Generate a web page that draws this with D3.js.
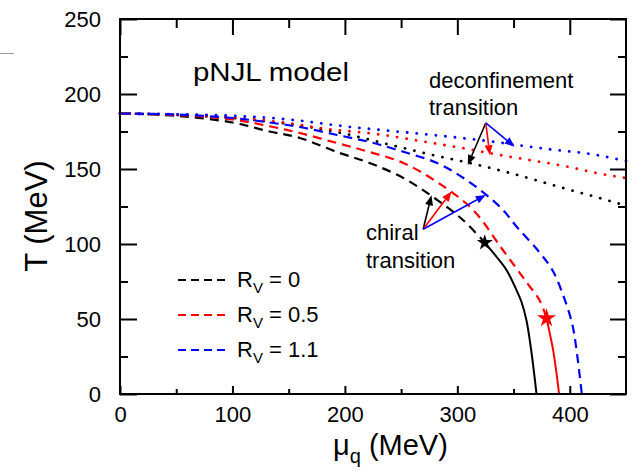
<!DOCTYPE html>
<html>
<head>
<meta charset="utf-8">
<script src="https://cdn.jsdelivr.net/npm/d3@7"></script>
<style>
  body { margin: 0; background: #fff; }
  svg text { font-family: "Liberation Sans", Arial, sans-serif; fill: #000; }
</style>
</head>
<body>
<svg id="chart" width="634" height="471"></svg>
<script>
// data: [mu_q (MeV), T (MeV)]
var muTicks = [0, 100, 200, 300, 400];
var muMinor = [50, 150, 250, 350];
var tTicks = [0, 50, 100, 150, 200, 250];
var tMinor = [25, 75, 125, 175, 225];

var chiralRv0 = [[0, 187], [50, 185.5], [100, 181], [133, 175], [160, 170.7], [193, 161.3], [222, 154], [252, 144], [280, 130.5], [305, 116], [324.4, 100.9]];
var chiralRv05 = [[0, 187], [50, 186], [100, 183], [133, 178.5], [160, 174], [193, 167.3], [222, 161.3], [252, 154], [282, 141.3], [314, 122.7], [340, 96.5], [362, 74], [373, 62.7], [379.3, 50.5]];
var chiralRv11 = [[0, 187], [50, 186.3], [100, 184], [133, 181], [160, 178], [193, 172.7], [222, 168], [252, 161.5], [282, 154], [308, 142.7], [338, 124.7], [353, 111.3], [373, 94.5], [385, 82], [394, 66], [402, 47.3], [406, 29.3], [410.7, 0]];

var firstOrderRv0 = [[324.4, 100.9], [334.8, 91.5], [343.7, 82.7], [352.6, 69.3], [357, 61.5], [361.5, 49], [365.9, 28], [370.4, 0]];
var firstOrderRv05 = [[379.3, 50.5], [382.2, 40.4], [385.2, 29.3], [388.2, 13.8], [390.5, 0]];

var deconfRv0 = [[0, 187], [50, 186], [100, 184], [150, 180], [200, 173.5], [234, 167.3], [277, 159.5], [311, 154], [347, 147.3], [391, 138], [442, 127.3], [450, 125.5]];
var deconfRv05 = [[0, 187], [50, 186.3], [100, 184.5], [150, 180.5], [178, 177.3], [231, 173], [278, 167.3], [302, 164.3], [338, 159.3], [364, 156], [400, 151.3], [424, 147.3], [450, 144]];
var deconfRv11 = [[0, 187], [50, 186.5], [100, 185.5], [150, 183], [200, 178.5], [260, 174], [278, 172.7], [320, 169.3], [373, 164], [424, 159.3], [450, 155.3]];

var critPoints = [[324.4, 100.9], [379.3, 50.5]];

var legendLabels = ["0", "0.5", "1.1"];
var colors = ["#000000", "#ff0000", "#0000ff"];

// annotation arrows: origin and tips
var chiralFrom = [269.6, 109.8];
var chiralTips = [[277, 132.5], [294.8, 135], [325.3, 132.7]];
var deconfFrom = [325.3, 180.7];
var deconfTips = [[309.3, 152.7], [328.9, 159.3], [351, 164.9]];

var svg = d3.select("#chart");

var x = d3.scaleLinear().domain([0, 450]).range([120, 626]);
var y = d3.scaleLinear().domain([0, 250]).range([394, 19]);

// stray grey mark at top left of the original
svg.append("line").attr("x1", 0).attr("x2", 14).attr("y1", 53.5).attr("y2", 53.5)
  .attr("stroke", "#999").attr("stroke-width", 1);

var line = d3.line().x(d => x(d[0])).y(d => y(d[1])).curve(d3.curveMonotoneX);
var lineY = d3.line().x(d => x(d[0])).y(d => y(d[1])).curve(d3.curveCatmullRom);

var plot = svg.append("g");

[deconfRv0, deconfRv05, deconfRv11].forEach(function (d, i) {
  plot.append("path").attr("d", line(d)).attr("fill", "none")
    .attr("stroke", colors[i]).attr("stroke-width", 2.8)
    .attr("stroke-linecap", "round")
    .attr("stroke-dasharray", "0.1,9.5");
});

[chiralRv0, chiralRv05, chiralRv11].forEach(function (d, i) {
  plot.append("path").attr("d", lineY(d)).attr("fill", "none")
    .attr("stroke", colors[i]).attr("stroke-width", 2.2)
    .attr("stroke-dasharray", "9,6");
});

[firstOrderRv0, firstOrderRv05].forEach(function (d, i) {
  plot.append("path").attr("d", lineY(d)).attr("fill", "none")
    .attr("stroke", colors[i]).attr("stroke-width", 2);
});

var star = d3.symbol().type(d3.symbolStar);
critPoints.forEach(function (p, i) {
  plot.append("path").attr("d", star.size(i == 0 ? 80 : 110)())
    .attr("transform", "translate(" + x(p[0]) + "," + y(p[1]) + ")")
    .attr("fill", colors[i]);
});

function arrow(from, to, color) {
  var x1 = x(from[0]), y1 = y(from[1]), x2 = x(to[0]), y2 = y(to[1]);
  var a = Math.atan2(y2 - y1, x2 - x1), L = 10, W = 4;
  var bx = x2 - L * Math.cos(a), by = y2 - L * Math.sin(a);
  plot.append("line").attr("x1", x1).attr("y1", y1).attr("x2", bx).attr("y2", by)
    .attr("stroke", color).attr("stroke-width", 1.6);
  plot.append("path")
    .attr("d", "M" + x2 + "," + y2 +
      "L" + (bx + W * Math.sin(a)) + "," + (by - W * Math.cos(a)) +
      "L" + (bx - W * Math.sin(a)) + "," + (by + W * Math.cos(a)) + "Z")
    .attr("fill", color);
}
chiralTips.forEach((t, i) => arrow(chiralFrom, t, colors[i]));
deconfTips.forEach((t, i) => arrow(deconfFrom, t, colors[i]));

// axes
function styleAxis(g) {
  g.select(".domain").remove();
  g.selectAll(".tick line").attr("stroke", "#000").attr("stroke-width", 2);
  g.selectAll(".tick text").attr("font-size", 22).attr("font-family", "Liberation Sans, Arial, sans-serif");
}
svg.append("g").attr("transform", "translate(0,394)")
  .call(d3.axisBottom(x).tickValues(muTicks).tickSize(-8).tickPadding(12)).call(styleAxis);
svg.append("g").attr("transform", "translate(0,394)")
  .call(d3.axisBottom(x).tickValues(muMinor).tickSize(-5).tickFormat("")).call(styleAxis);
svg.append("g").attr("transform", "translate(0,19)")
  .call(d3.axisTop(x).tickValues(muTicks).tickSize(-16).tickFormat("")).call(styleAxis);
svg.append("g").attr("transform", "translate(0,19)")
  .call(d3.axisTop(x).tickValues(muMinor).tickSize(-9).tickFormat("")).call(styleAxis);
svg.append("g").attr("transform", "translate(120,0)")
  .call(d3.axisLeft(y).tickValues(tTicks).tickSize(-17).tickPadding(19)).call(styleAxis);
svg.append("g").attr("transform", "translate(120,0)")
  .call(d3.axisLeft(y).tickValues(tMinor).tickSize(-8).tickFormat("")).call(styleAxis);
svg.append("g").attr("transform", "translate(626,0)")
  .call(d3.axisRight(y).tickValues(tTicks).tickSize(-16).tickFormat("")).call(styleAxis);
svg.append("g").attr("transform", "translate(626,0)")
  .call(d3.axisRight(y).tickValues(tMinor).tickSize(-8).tickFormat("")).call(styleAxis);

svg.append("rect").attr("x", 120).attr("y", 19).attr("width", 506).attr("height", 375)
  .attr("fill", "none").attr("stroke", "#000").attr("stroke-width", 2);

// axis titles
svg.append("text").attr("transform", "translate(47,216) rotate(-90)")
  .attr("text-anchor", "middle").attr("font-size", 31).text("T (MeV)");
var xt = svg.append("text").attr("x", 333).attr("y", 455).attr("font-size", 29);
xt.append("tspan").text("\u03bc");
xt.append("tspan").attr("font-size", 20).attr("dy", 8).text("q");
xt.append("tspan").attr("dy", -8).text(" (MeV)");

// annotations
svg.append("text").attr("x", 193).attr("y", 81).attr("font-size", 25)
  .attr("textLength", 156).attr("lengthAdjust", "spacingAndGlyphs").text("pNJL model");
svg.append("text").attr("x", 429).attr("y", 88).attr("font-size", 22).text("deconfinement");
svg.append("text").attr("x", 429).attr("y", 115).attr("font-size", 22).text("transition");
svg.append("text").attr("x", 366).attr("y", 240).attr("font-size", 22).text("chiral");
svg.append("text").attr("x", 366).attr("y", 268).attr("font-size", 22).text("transition");

// legend
var leg = svg.append("g");
legendLabels.forEach(function (lab, i) {
  var ly = 280 + i * 35;
  leg.append("line").attr("x1", 178).attr("x2", 228).attr("y1", ly).attr("y2", ly)
    .attr("stroke", colors[i]).attr("stroke-width", 2.2).attr("stroke-dasharray", "8,5");
  var t = leg.append("text").attr("x", 237).attr("y", ly + 7).attr("font-size", 22);
  t.append("tspan").text("R");
  t.append("tspan").attr("font-size", 15).attr("dy", 6).text("V");
  t.append("tspan").attr("dy", -6).text(" = " + lab);
});
</script>
</body>
</html>
